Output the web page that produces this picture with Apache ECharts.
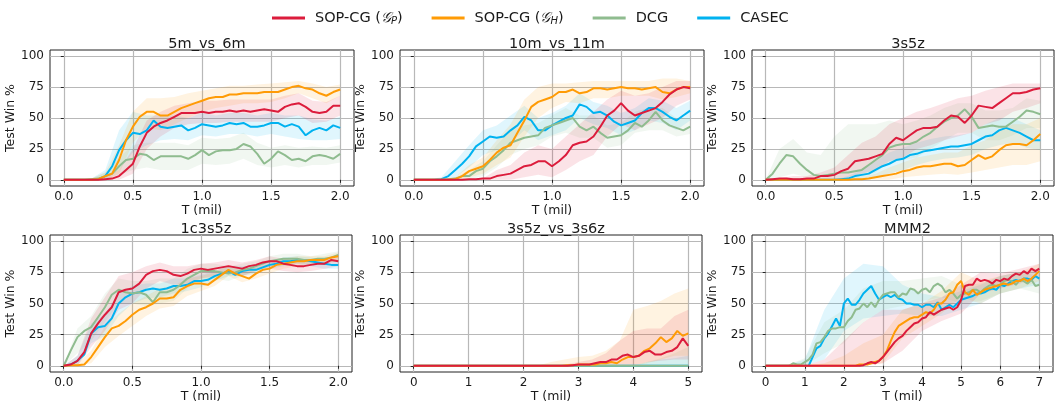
<!DOCTYPE html>
<html><head><meta charset="utf-8">
<script src="https://cdn.jsdelivr.net/npm/echarts@6/dist/echarts.min.js"></script>
<style>html,body{margin:0;padding:0;background:#fff}#c{width:1055px;height:402px}</style>
</head><body><div id="c"></div>
<script>
// ---- x sample positions ----
const X2 = [0,0.05,0.1,0.15,0.2,0.25,0.3,0.35,0.4,0.45,0.5,0.55,0.6,0.65,0.7,0.75,0.8,0.85,0.9,0.95,1,1.05,1.1,1.15,1.2,1.25,1.3,1.35,1.4,1.45,1.5,1.55,1.6,1.65,1.7,1.75,1.8,1.85,1.9,1.95,2];
const XB2 = [0,0.1,0.2,0.3,0.4,0.5,0.6,0.7,0.8,0.9,1,1.1,1.2,1.3,1.4,1.5,1.6,1.7,1.8,1.9,2];
const X7 = [0,0.1,0.2,0.3,0.4,0.5,0.6,0.7,0.8,0.9,1,1.1,1.2,1.3,1.4,1.5,1.6,1.7,1.8,1.9,2,2.1,2.2,2.3,2.4,2.5,2.6,2.7,2.8,2.9,3,3.1,3.2,3.3,3.4,3.5,3.6,3.7,3.8,3.9,4,4.1,4.2,4.3,4.4,4.5,4.6,4.7,4.8,4.9,5,5.1,5.2,5.3,5.4,5.5,5.6,5.7,5.8,5.9,6,6.1,6.2,6.3,6.4,6.5,6.6,6.7,6.8,6.9,7];
const X5 = [0,0.1,0.2,0.3,0.4,0.5,0.6,0.7,0.8,0.9,1,1.1,1.2,1.3,1.4,1.5,1.6,1.7,1.8,1.9,2,2.1,2.2,2.3,2.4,2.5,2.6,2.7,2.8,2.9,3,3.1,3.2,3.3,3.4,3.5,3.6,3.7,3.8,3.9,4,4.1,4.2,4.3,4.4,4.5,4.6,4.7,4.8,4.9,5];
const XB5 = [0,0.25,0.5,0.75,1,1.25,1.5,1.75,2,2.25,2.5,2.75,3,3.25,3.5,3.75,4,4.25,4.5,4.75,5];
const XB7 = [0,0.5,1,1.5,2,2.5,3,3.5,4,4.5,5,5.5,6,6.5,7];

// ---- tick labels ----
const TICKS2 = [0,0.5,1,1.5,2];
const TICKS5 = [0,1,2,3,4,5];
const TICKS7 = [0,1,2,3,4,5,6,7];
const YTICKS = [0,25,50,75,100];

// ---- 5m_vs_6m ----
const P1_P = [0,0,0,0,0,0,0.5,1,3,8,13,27,38,43,46,48,51,54,54,54,55,54,55,55,56,55,56,55,56,57,56,55,59,61,62,59,55,54,55,60,60];
const P1_H = [0,0,0,0,0,0.5,3,5,16,32,43,51,55,55,52,52,55,58,60,62,64,66,67,67,69,69,70,70,70,71,71,71,73,75,76,74,73,70,68,71,73];
const P1_D = [0,0,0,0,0.5,1,3,5,11,16,17,21,20,16,19,19,19,19,17,20,24,20,23,24,24,25,29,27,21,13,17,23,20,16,17,15,19,20,19,17,21];
const P1_C = [0,0,0,0,0,0.5,3,11,24,32,38,37,40,48,43,42,43,44,40,42,45,44,43,44,46,45,46,43,43,44,46,46,43,45,43,36,40,42,40,44,42];
const P1_P_LO = [0,0,0,0,0,5,25,35,42,45,46,46,47,47,47,47,50,52,46,47,52];
const P1_P_HI = [0,0,1,2,8,25,48,55,60,62,64,64,65,65,65,65,68,70,64,63,68];
const P1_H_LO = [0,0,0,0,5,30,42,40,45,50,55,58,60,62,62,63,66,70,66,62,68];
const P1_H_HI = [0,0,1,6,28,55,66,66,67,70,72,74,76,76,77,78,79,80,78,75,77];
const P1_D_LO = [0,0,0,0,4,8,10,8,8,8,13,12,13,17,12,10,12,10,12,12,14];
const P1_D_HI = [0,0,1,6,18,28,30,30,30,28,34,33,34,38,30,26,28,26,27,26,28];
const P1_C_LO = [0,0,0,0,8,22,28,32,33,32,36,35,37,37,35,37,35,33,32,32,33];
const P1_C_HI = [0,0,1,8,40,55,52,52,52,50,54,52,54,54,52,54,52,52,49,48,51];

// ---- 10m_vs_11m ----
const P2_P = [0,0,0,0,0,0,0,0,0.5,0.5,1,1,3,4,5,8,11,12,15,15,11,15,20,28,30,31,35,43,52,56,62,56,52,54,56,58,63,69,73,75,74];
const P2_H = [0,0,0,0,0,0,0.5,3,7,9,11,16,22,26,28,38,48,59,63,65,67,71,71,73,70,71,74,74,73,74,75,74,74,73,74,75,71,70,73,75,75];
const P2_D = [0,0,0,0,0,0.5,1,3,3,7,9,15,19,24,30,32,34,35,36,42,44,46,48,50,43,40,43,38,34,35,36,40,46,43,48,55,48,44,42,40,43];
const P2_C = [0,0,0,0,0.5,3,8,13,19,27,31,35,34,35,40,44,51,48,40,40,44,47,50,52,61,59,54,55,52,47,44,46,48,54,58,58,55,51,48,52,56];
const P2_P_LO = [0,0,0,0,0,0,0,0,2,4,2,8,15,20,35,45,40,45,50,60,65];
const P2_P_HI = [0,0,0,0,0,1,8,12,22,28,25,35,45,55,65,72,68,70,75,80,80];
const P2_H_LO = [0,0,0,0,2,5,12,18,35,50,58,63,62,66,66,68,68,68,65,67,70];
const P2_H_HI = [0,0,0,2,12,18,32,45,65,75,78,78,79,80,80,80,80,80,82,82,80];
const P2_D_LO = [0,0,0,0,0,3,10,20,25,28,35,38,34,34,26,28,38,40,40,35,37];
const P2_D_HI = [0,0,0,2,8,15,28,40,44,46,52,58,52,52,44,46,55,58,58,50,50];
const P2_C_LO = [0,0,0,2,10,20,24,30,40,32,36,40,50,45,42,36,40,48,46,40,48];
const P2_C_HI = [0,0,2,15,28,40,44,52,60,50,54,60,70,63,60,54,58,66,64,58,64];

// ---- 3s5z ----
const P3_P = [0,0.5,1,1,0.5,0.5,1,1,3,3,4,7,9,15,16,17,19,21,29,34,32,36,40,42,42,43,48,52,51,46,52,60,59,58,62,66,70,70,71,73,74];
const P3_H = [0,0,0,0,0,0,0,0,0,0,0,0,0,0.5,0.5,1,2,3,4,5,7,8,10,11,11,12,13,13,11,12,16,20,17,19,24,28,29,29,28,32,37];
const P3_D = [0,5,13,20,19,13,8,4,3,4,5,6,6,7,8,12,16,20,26,28,29,29,31,35,38,43,47,50,52,57,51,42,43,44,43,43,47,51,56,55,53];
const P3_C = [0,0,0,0,0,0,0,0,0,0,0,0.5,1,3,4,5,8,11,13,16,17,20,21,23,24,25,26,27,27,28,29,32,35,36,40,42,40,38,35,32,32];
const P3_P_LO = [0,0,0,0,0,0,2,5,8,15,18,25,28,32,35,38,45,48,55,58,62];
const P3_P_HI = [0,1,3,3,6,10,20,30,35,45,50,55,58,62,66,68,72,75,78,78,78];
const P3_H_LO = [0,0,0,0,0,0,0,0,0,0,2,3,4,5,4,6,8,10,12,12,15];
const P3_H_HI = [0,0,0,0,0,0,1,2,5,10,14,18,20,22,22,28,32,40,45,45,50];
const P3_D_LO = [0,2,5,2,0,0,0,2,6,14,16,18,25,32,38,38,32,32,36,42,42];
const P3_D_HI = [0,25,33,22,20,35,45,45,45,48,45,48,52,58,62,62,56,56,58,66,64];
const P3_C_LO = [0,0,0,0,0,0,0,0,2,5,8,12,15,17,18,20,25,28,30,26,24];
const P3_C_HI = [0,0,0,0,0,0,3,8,15,22,26,30,33,35,36,38,45,50,50,45,40];

// ---- 1c3s5z ----
const P4_P = [0,1,4,11,26,34,41,47,59,61,62,66,73,76,77,76,73,72,74,77,78,77,78,79,80,79,78,80,81,83,84,84,82,81,80,80,81,82,82,85,84];
const P4_H = [0,0.5,0.5,1,7,15,23,30,32,36,41,45,47,50,54,54,55,61,64,66,66,65,69,73,77,74,72,70,74,77,78,81,82,83,84,84,85,85,85,87,88];
const P4_D = [0,12,23,28,31,39,47,57,61,59,58,59,57,51,59,59,61,65,70,73,76,76,76,75,74,75,77,78,80,82,84,85,86,86,86,85,85,86,86,87,89];
const P4_C = [0,1,4,9,26,31,32,38,50,55,58,59,61,62,61,62,64,64,65,68,68,69,72,74,76,73,76,77,77,79,81,82,84,84,85,85,84,83,82,81,81];
const P4_P_LO = [0,0,15,28,45,50,62,68,65,66,70,72,74,72,76,78,76,75,76,78,80];
const P4_P_HI = [0,8,38,55,72,75,80,83,80,80,82,83,85,83,85,88,86,85,85,86,88];
const P4_H_LO = [0,0,2,15,24,32,40,46,48,56,60,64,72,67,70,74,78,80,82,82,84];
const P4_H_HI = [0,2,12,32,42,50,56,62,64,70,72,75,81,77,79,82,86,88,88,88,91];
const P4_D_LO = [0,10,20,35,50,50,48,50,52,62,70,70,68,72,76,80,82,82,82,82,85];
const P4_D_HI = [0,30,40,58,70,68,68,70,70,78,82,82,80,82,84,88,90,90,88,90,92];
const P4_C_LO = [0,0,18,24,40,50,54,55,58,60,63,68,72,72,74,78,80,82,80,78,78];
const P4_C_HI = [0,8,34,42,58,64,66,66,70,70,73,76,80,80,81,84,87,88,87,85,84];

// ---- 3s5z_vs_3s6z ----
const P5_P = [0,0,0,0,0,0,0,0,0,0,0,0,0,0,0,0,0,0,0,0,0,0,0,0,0,0,0,0,0,0.5,1,1,1,2,3,3,5,5,8,9,7,8,11,12,9,9,11,12,15,22,16];
const P5_H = [0,0,0,0,0,0,0,0,0,0,0,0,0,0,0,0,0,0,0,0,0,0,0,0,0,0,0,0,0.5,0.5,1,1,1,1,2,2,3,2,5,7,7,8,12,14,18,23,19,22,28,24,26];
const P5_D = [0,0,0,0,0,0,0,0,0,0,0,0,0,0,0,0,0,0,0,0,0,0,0,0,0,0,0,0,0,0,0,0,0,0,0,0,0,0,0,0,0,0,0,0,0,0,0,0,0,0,0];
const P5_C = [0,0,0,0,0,0,0,0,0,0,0,0,0,0,0,0,0,0,0,0,0,0,0,0,0,0,0,0,0,0,0,0,0,0,0,0,0,0,0,0,0,0,0,0,0,0,0,0,0,0,0];
const P5_P_LO = [0,0,0,0,0,0,0,0,0,0,0,0,0,0,0,0,0,3,4,5,5];
const P5_P_HI = [0,0,0,0,0,0,0,0,0,0,0,1,3,5,10,20,28,30,30,40,45];
const P5_H_LO = [0,0,0,0,0,0,0,0,0,0,0,0,0,0,0,0,0,2,5,8,8];
const P5_H_HI = [0,0,0,0,0,0,0,0,0,0,3,5,7,8,12,20,45,48,52,58,62];
const P5_D_LO = [0,0,0,0,0,0,0,0,0,0,0,0,0,0,0,0,0,0,0,0,0];
const P5_D_HI = [0,0,0,0,0,0,0,0,0,0,0,0,0,0,0,0,0,3,6,10,15];
const P5_C_LO = [0,0,0,0,0,0,0,0,0,0,0,0,0,0,0,0,0,0,0,0,0];
const P5_C_HI = [0,0,0,0,0,0,0,0,0,0,0,0,0,0,0,0,0,3,5,6,8];

// ---- MMM2 ----
const P6_P = [0,0,0,0,0,0,0,0,0,0,0,0,0,0,0,0,0,0,0,0,0,0,0,0,0,0.5,2,3,2,4,7,11,15,19,22,24,28,31,34,35,38,39,43,41,43,45,46,47,45,47,53,64,65,65,70,68,69,68,66,69,68,70,69,72,74,73,76,74,78,76,78];
const P6_H = [0,0,0,0,0,0,0,0,0,0,0,0,0,0,0,0,0,0,0,0,0,0,0,0,1,1,1,2,3,4,7,12,20,27,32,34,36,38,39,39,41,43,42,45,50,50,53,58,59,65,68,59,57,61,57,59,61,62,63,64,65,66,65,66,68,68,70,68,70,73,76];
const P6_D = [0,0,0,0,0,0,0,2,1,1,3,5,9,18,19,23,28,30,30,31,31,36,39,45,46,50,47,51,47,53,57,58,59,59,55,58,57,62,61,58,61,62,59,64,66,64,59,61,58,54,57,58,59,61,61,59,62,64,65,64,65,68,69,68,65,69,68,66,69,64,65];
const P6_C = [0,0,0,0,0,0,0,0,0,0,0,0,7,14,16,22,26,32,38,32,50,54,49,49,53,58,61,64,58,53,55,57,55,57,54,53,50,50,49,49,47,49,49,47,51,45,47,49,47,50,53,54,55,56,58,58,59,61,62,61,65,64,66,68,69,68,70,70,69,72,70];
const P6_P_LO = [0,0,0,0,0,0,2,12,28,36,42,58,62,66,72];
const P6_P_HI = [0,0,0,5,20,35,45,45,50,55,65,75,74,78,82];
const P6_H_LO = [0,0,0,0,0,0,2,22,32,42,55,50,58,62,68];
const P6_H_HI = [0,0,0,2,8,18,25,45,50,60,75,68,72,75,82];
const P6_D_LO = [0,0,0,10,18,35,45,48,52,55,50,52,58,62,58];
const P6_D_HI = [0,0,6,35,45,62,68,68,70,72,65,66,72,75,72];
const P6_C_LO = [0,0,0,5,28,38,40,42,40,40,45,50,58,62,65];
const P6_C_HI = [0,0,5,45,70,82,80,65,58,55,60,65,72,75,78];

const TITLES = ['5m_vs_6m','10m_vs_11m','3s5z','1c3s5z','3s5z_vs_3s6z','MMM2'];
const NAMES = {P:'SOP-CG (GP)', H:'SOP-CG (GH)', D:'DCG', C:'CASEC'};
const COLORS = {P:'#DC1C3C', H:'#FF9B05', D:'#8FBC8F', C:'#00B2F0'};

const panels = [
  {x:X2, xb:XB2, xr:[-0.1,2.1], ticks:TICKS2, dec:1,
   L:{P:P1_P,H:P1_H,D:P1_D,C:P1_C},
   B:{P:[P1_P_LO,P1_P_HI],H:[P1_H_LO,P1_H_HI],D:[P1_D_LO,P1_D_HI],C:[P1_C_LO,P1_C_HI]}},
  {x:X2, xb:XB2, xr:[-0.1,2.1], ticks:TICKS2, dec:1,
   L:{P:P2_P,H:P2_H,D:P2_D,C:P2_C},
   B:{P:[P2_P_LO,P2_P_HI],H:[P2_H_LO,P2_H_HI],D:[P2_D_LO,P2_D_HI],C:[P2_C_LO,P2_C_HI]}},
  {x:X2, xb:XB2, xr:[-0.1,2.1], ticks:TICKS2, dec:1,
   L:{P:P3_P,H:P3_H,D:P3_D,C:P3_C},
   B:{P:[P3_P_LO,P3_P_HI],H:[P3_H_LO,P3_H_HI],D:[P3_D_LO,P3_D_HI],C:[P3_C_LO,P3_C_HI]}},
  {x:X2, xb:XB2, xr:[-0.1,2.1], ticks:TICKS2, dec:1,
   L:{P:P4_P,H:P4_H,D:P4_D,C:P4_C},
   B:{P:[P4_P_LO,P4_P_HI],H:[P4_H_LO,P4_H_HI],D:[P4_D_LO,P4_D_HI],C:[P4_C_LO,P4_C_HI]}},
  {x:X5, xb:XB5, xr:[-0.25,5.25], ticks:TICKS5, dec:0,
   L:{P:P5_P,H:P5_H,D:P5_D,C:P5_C},
   B:{P:[P5_P_LO,P5_P_HI],H:[P5_H_LO,P5_H_HI],D:[P5_D_LO,P5_D_HI],C:[P5_C_LO,P5_C_HI]}},
  {x:X7, xb:XB7, xr:[-0.35,7.35], ticks:TICKS7, dec:0,
   L:{P:P6_P,H:P6_H,D:P6_D,C:P6_C},
   B:{P:[P6_P_LO,P6_P_HI],H:[P6_H_LO,P6_H_HI],D:[P6_D_LO,P6_D_HI],C:[P6_C_LO,P6_C_HI]}}
];

const GRIDS = [
  {left:50, top:50, width:304, height:136},
  {left:400, top:50, width:304, height:136},
  {left:752, top:50, width:302, height:136},
  {left:50, top:235, width:302, height:137},
  {left:400, top:235, width:302, height:137},
  {left:752, top:235, width:301, height:137}
];

const FONT = 'DejaVu Sans';
const TXT = '#1a1a1a';
const DRAW_ORDER = ['C','D','H','P'];

const grid = [], xAxis = [], yAxis = [], series = [], title = [];
panels.forEach((p, i) => {
  const g = GRIDS[i];
  grid.push(Object.assign({show:true, borderColor:'#222', borderWidth:1, backgroundColor:'#fff', outerBoundsMode:'none'}, g));
  title.push({text:TITLES[i], left:g.left + g.width/2, top:(i<3?32:217), textAlign:'center',
    textStyle:{fontFamily:FONT, fontSize:14.5, fontWeight:'normal', color:TXT}});
  xAxis.push({type:'value', gridIndex:i, min:p.xr[0], max:p.xr[1],
    name:'T (mil)', nameLocation:'middle', nameGap:15,
    nameTextStyle:{fontFamily:FONT, fontSize:12.5, color:TXT},
    axisLine:{show:false},
    axisTick:{show:true, customValues:p.ticks, length:3, lineStyle:{color:'#222'}},
    axisLabel:{customValues:p.ticks, margin:5, fontFamily:FONT, fontSize:12, color:TXT,
      formatter:v => Number(v).toFixed(p.dec)},
    splitLine:{show:true, lineStyle:{color:'#b8b8b8', width:1.2}}
  });
  yAxis.push({type:'value', gridIndex:i, min:-5, max:105,
    name:'Test Win %', nameLocation:'middle', nameGap:28, nameRotate:90,
    nameTextStyle:{fontFamily:FONT, fontSize:12.5, color:TXT},
    axisLine:{show:false},
    axisTick:{show:true, customValues:YTICKS, length:3, lineStyle:{color:'#222'}},
    axisLabel:{customValues:YTICKS, margin:6, fontFamily:FONT, fontSize:12, color:TXT},
    splitLine:{show:true, lineStyle:{color:'#b8b8b8', width:1.2}}
  });
  // shaded bands: one polygon per band, built from lo/hi through the axis scales
  DRAW_ORDER.forEach(k => {
    const lo = p.B[k][0], hi = p.B[k][1], xb = p.xb, col = COLORS[k];
    series.push({type:'custom', name:'band_'+i+k, xAxisIndex:i, yAxisIndex:i, silent:true, z:1,
      data:xb.map((x,j)=>[x, lo[j], hi[j]]),
      encode:{x:0, y:[1,2]},
      renderItem:function(params, api){
        if (params.dataIndex !== 0) return null;
        const top = [], bot = [];
        for (let j = 0; j < xb.length; j++) {
          top.push(api.coord([xb[j], hi[j]]));
          bot.push(api.coord([xb[j], lo[j]]));
        }
        return {type:'polygon', shape:{points: top.concat(bot.reverse())},
          style:{fill:col, opacity:0.12}};
      }
    });
  });
  DRAW_ORDER.forEach((k, n) => {
    series.push({type:'line', name:NAMES[k], xAxisIndex:i, yAxisIndex:i,
      data:p.x.map((x,j)=>[x, p.L[k][j]]), showSymbol:false, symbol:'none',
      lineStyle:{color:COLORS[k], width:2}, itemStyle:{color:COLORS[k]}, z:3+n});
  });
});

const rich = {
  n:{fontFamily:FONT, fontSize:14.5, color:TXT, lineHeight:18},
  g:{fontFamily:'DejaVu Serif', fontSize:14.5, fontStyle:'italic', color:TXT, lineHeight:18},
  s:{fontFamily:FONT, fontSize:10, fontStyle:'italic', color:TXT, lineHeight:18, padding:[6,0,0,0]}
};

const chart = echarts.init(document.getElementById('c'), null, {renderer:'canvas'});
chart.setOption({
  animation:false,
  backgroundColor:'#fff',
  title,
  legend:{
    data:[NAMES.P, NAMES.H, NAMES.D, NAMES.C].map(n=>({name:n, icon:'rect'})),
    left:267, top:5, itemWidth:33, itemHeight:3, itemGap:29,
    textStyle:{fontFamily:FONT, fontSize:14.5, color:TXT, padding:[0,0,0,5], rich},
    formatter:function(name){
      if (name === NAMES.P) return '{n|SOP-CG (}{g|𝒢}{s|P}{n|)}';
      if (name === NAMES.H) return '{n|SOP-CG (}{g|𝒢}{s|H}{n|)}';
      return '{n|' + name + '}';
    }
  },
  grid, xAxis, yAxis, series
});
</script>
</body></html>
